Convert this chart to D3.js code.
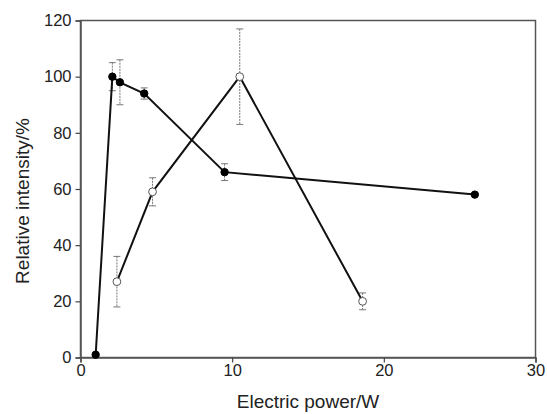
<!DOCTYPE html>
<html>
<head>
<meta charset="utf-8">
<script src="https://cdn.jsdelivr.net/npm/d3@7"></script>
<style>
  body { margin: 0; background: #fff; }
  text { font-family: "Liberation Sans", Arial, sans-serif; fill: #222; }
</style>
</head>
<body>
<div id="chart"></div>
<script>
// filled circles
const powerFilled = [1.0, 2.1, 2.6, 4.2, 9.5, 26.0];
const intensityFilled = [1, 100, 98, 94, 66, 58];
const errFilled = [0, 5, 8, 2, 3, 0];

// open circles
const powerOpen = [2.4, 4.75, 10.5, 18.6];
const intensityOpen = [27, 59, 100, 20];
const errOpen = [9, 5, 17, 3];

const xTicks = [0, 10, 20, 30];
const yTicks = [0, 20, 40, 60, 80, 100, 120];

const width = 547, height = 414;
const margin = { top: 20.5, right: 11.5, bottom: 56.5, left: 80.5 };
const w = width - margin.left - margin.right;
const h = height - margin.top - margin.bottom;

const svg = d3.select("#chart").append("svg")
  .attr("width", width)
  .attr("height", height);

const g = svg.append("g")
  .attr("transform", `translate(${margin.left},${margin.top})`);

const x = d3.scaleLinear().domain([0, 30]).range([0, w]);
const y = d3.scaleLinear().domain([0, 120]).range([h, 0]);

// frame
g.append("rect")
  .attr("width", w).attr("height", h)
  .attr("fill", "none")
  .attr("stroke", "#555")
  .attr("stroke-width", 1.5);

// axes
const xAxis = g.append("g")
  .attr("transform", `translate(0,${h})`)
  .call(d3.axisBottom(x).tickValues(xTicks).tickSize(5).tickPadding(2).tickFormat(d3.format("d")));
const yAxis = g.append("g")
  .call(d3.axisLeft(y).tickValues(yTicks).tickSize(5).tickPadding(4).tickFormat(d3.format("d")));

[xAxis, yAxis].forEach(a => {
  a.attr("font-size", null).attr("font-family", null);
  a.select(".domain").attr("stroke", "#555").attr("stroke-width", 1.5);
  a.selectAll(".tick line").attr("stroke", "#444").attr("stroke-width", 1.2);
  a.selectAll(".tick text")
    .style("font-size", "16.5px")
    .attr("fill", "#222");
});

// axis titles
svg.append("text")
  .attr("x", margin.left + w / 2)
  .attr("y", 408)
  .attr("text-anchor", "middle")
  .style("font-size", "19px")
  .text("Electric power/W");

svg.append("text")
  .attr("transform", "translate(29,201) rotate(-90)")
  .attr("text-anchor", "middle")
  .style("font-size", "19px")
  .text("Relative intensity/%");

function drawSeries(xs, ys, es, open) {
  const pts = xs.map((d, i) => ({ x: d, y: ys[i], e: es[i] }));

  // error bars
  const eb = g.append("g")
    .attr("stroke", "#777")
    .attr("stroke-width", 1);
  pts.filter(d => d.e > 0).forEach(d => {
    eb.append("line")
      .attr("stroke-dasharray", "2,1")
      .attr("x1", x(d.x)).attr("x2", x(d.x))
      .attr("y1", y(d.y + d.e)).attr("y2", y(d.y - d.e));
    [d.y + d.e, d.y - d.e].forEach(v => {
      eb.append("line")
        .attr("x1", x(d.x) - 3.5).attr("x2", x(d.x) + 3.5)
        .attr("y1", y(v)).attr("y2", y(v));
    });
  });

  // line
  g.append("path")
    .datum(pts)
    .attr("fill", "none")
    .attr("stroke", "#111")
    .attr("stroke-width", 2)
    .attr("d", d3.line().x(d => x(d.x)).y(d => y(d.y)));

  // markers
  g.selectAll(null)
    .data(pts)
    .enter().append("circle")
    .attr("cx", d => x(d.x))
    .attr("cy", d => y(d.y))
    .attr("r", open ? 3.9 : 3.7)
    .attr("fill", open ? "#fff" : "#000")
    .attr("stroke", open ? "#555" : "#000")
    .attr("stroke-width", 1);
}

drawSeries(powerOpen, intensityOpen, errOpen, true);
drawSeries(powerFilled, intensityFilled, errFilled, false);
</script>
</body>
</html>
